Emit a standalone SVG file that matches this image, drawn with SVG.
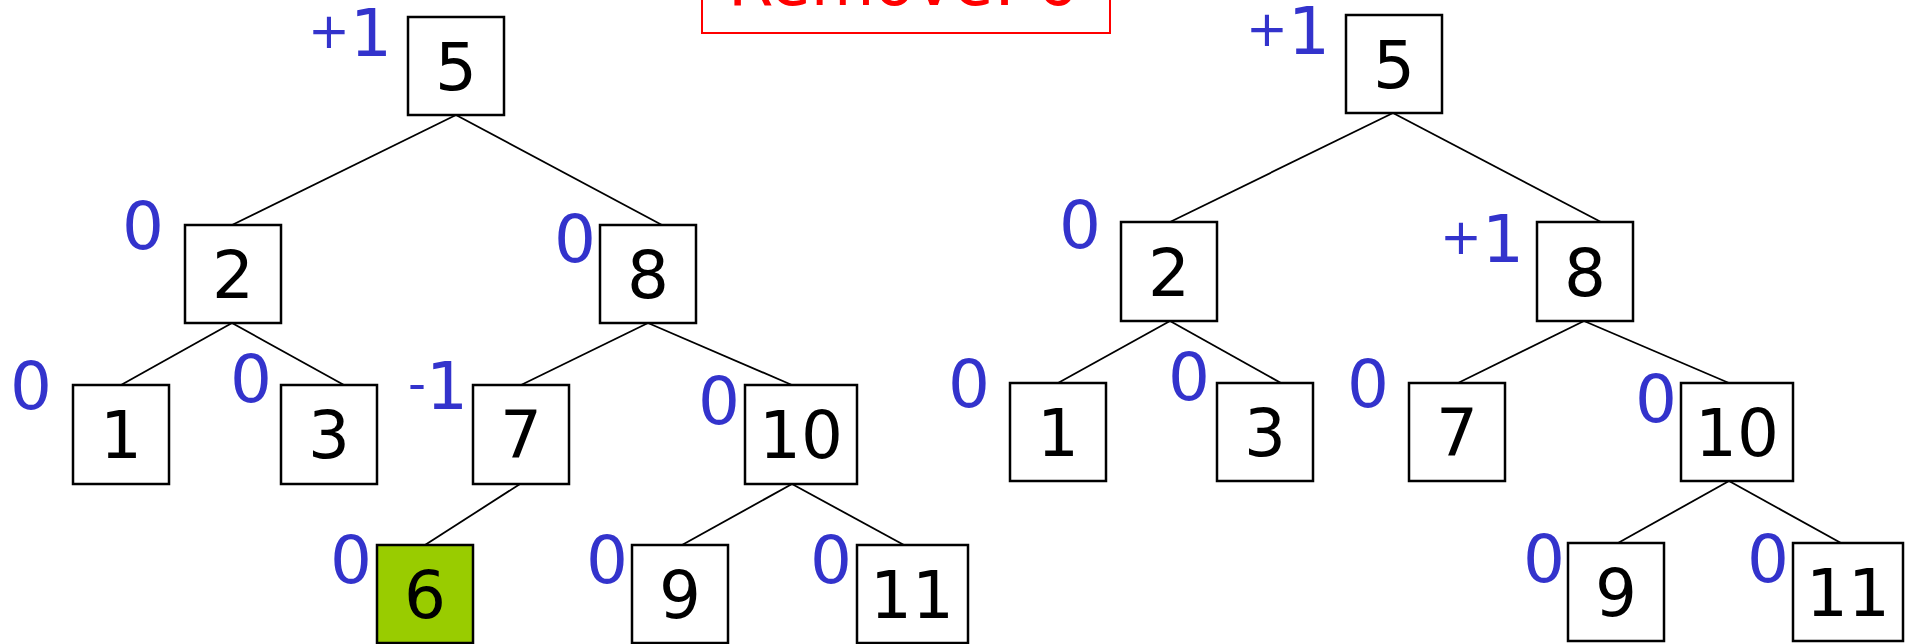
<svg xmlns="http://www.w3.org/2000/svg" width="1905" height="644" viewBox="0 0 1905 644">
<style>
.box{fill:#ffffff;stroke:#000;stroke-width:2.5}
.hl{fill:#99cc00}
.num{font-family:"DejaVu Sans","Liberation Sans",sans-serif;font-size:66px;fill:#000;text-anchor:middle}
.bal{font-family:"DejaVu Sans","Liberation Sans",sans-serif;font-size:66px;fill:#3333cc;text-anchor:middle}
.sg{font-family:"DejaVu Sans","Liberation Sans",sans-serif;font-size:66px;fill:#3333cc;text-anchor:end}
.sm{font-size:50px}
.edge{stroke:#000;stroke-width:1.8;fill:none}
.title{font-family:"DejaVu Sans","Liberation Sans",sans-serif;font-size:66px;fill:#ff0000}
</style>
<rect width="1905" height="644" fill="#ffffff"/>
<g id="title">
<rect x="702" y="-5" width="408" height="38" fill="#ffffff" stroke="#ff0000" stroke-width="2"/>
<text class="title" x="728" y="5" textLength="350" lengthAdjust="spacingAndGlyphs">Remove: 6</text>
</g>
<g id="connectors">
<line class="edge" x1="456" y1="115" x2="232" y2="225"/>
<line class="edge" x1="456" y1="115" x2="662" y2="225"/>
<line class="edge" x1="232" y1="323" x2="121" y2="385"/>
<line class="edge" x1="232" y1="323" x2="344" y2="385"/>
<line class="edge" x1="648" y1="323" x2="521" y2="385"/>
<line class="edge" x1="648" y1="323" x2="792" y2="385"/>
<line class="edge" x1="520" y1="484" x2="425" y2="545"/>
<line class="edge" x1="792" y1="484" x2="682" y2="545"/>
<line class="edge" x1="792" y1="484" x2="904" y2="545"/>
<line class="edge" x1="1393" y1="113" x2="1170" y2="222"/>
<line class="edge" x1="1393" y1="113" x2="1601" y2="222"/>
<line class="edge" x1="1170" y1="321" x2="1058" y2="383"/>
<line class="edge" x1="1170" y1="321" x2="1281" y2="383"/>
<line class="edge" x1="1584" y1="321" x2="1458" y2="383"/>
<line class="edge" x1="1584" y1="321" x2="1729" y2="383"/>
<line class="edge" x1="1729" y1="481" x2="1618" y2="543"/>
<line class="edge" x1="1729" y1="481" x2="1841" y2="543"/>
</g>
<g id="L5"><rect class="box" x="408" y="17" width="96" height="98"/><text class="num" x="456" y="90">5</text><text class="sg" x="392" y="56"><tspan class="sm" dy="-8">+</tspan><tspan dy="8">1</tspan></text></g>
<g id="L2"><rect class="box" x="185" y="225" width="96" height="98"/><text class="num" x="233" y="298">2</text><text class="bal" x="143" y="249">0</text></g>
<g id="L8"><rect class="box" x="600" y="225" width="96" height="98"/><text class="num" x="648" y="298">8</text><text class="bal" x="575" y="262">0</text></g>
<g id="L1"><rect class="box" x="73" y="385" width="96" height="99"/><text class="num" x="121" y="458">1</text><text class="bal" x="31" y="409">0</text></g>
<g id="L3"><rect class="box" x="281" y="385" width="96" height="99"/><text class="num" x="329" y="458">3</text><text class="bal" x="251" y="402">0</text></g>
<g id="L7"><rect class="box" x="473" y="385" width="96" height="99"/><text class="num" x="521" y="458">7</text><text class="sg" x="468" y="409"><tspan class="sm" dy="-8">-</tspan><tspan dy="8">1</tspan></text></g>
<g id="L10"><rect class="box" x="745" y="385" width="112" height="99"/><text class="num" x="801" y="458">10</text><text class="bal" x="719" y="424">0</text></g>
<g id="L6"><rect class="box hl" x="377" y="545" width="96" height="98"/><text class="num" x="425" y="618">6</text><text class="bal" x="351" y="583">0</text></g>
<g id="L9"><rect class="box" x="632" y="545" width="96" height="98"/><text class="num" x="680" y="618">9</text><text class="bal" x="607" y="583">0</text></g>
<g id="L11"><rect class="box" x="857" y="545" width="111" height="98"/><text class="num" x="912" y="618">11</text><text class="bal" x="831" y="583">0</text></g>
<g id="R5"><rect class="box" x="1346" y="15" width="96" height="98"/><text class="num" x="1394" y="88">5</text><text class="sg" x="1330" y="54"><tspan class="sm" dy="-8">+</tspan><tspan dy="8">1</tspan></text></g>
<g id="R2"><rect class="box" x="1121" y="222" width="96" height="99"/><text class="num" x="1169" y="296">2</text><text class="bal" x="1080" y="248">0</text></g>
<g id="R8"><rect class="box" x="1537" y="222" width="96" height="99"/><text class="num" x="1585" y="296">8</text><text class="sg" x="1524" y="262"><tspan class="sm" dy="-8">+</tspan><tspan dy="8">1</tspan></text></g>
<g id="R1"><rect class="box" x="1010" y="383" width="96" height="98"/><text class="num" x="1058" y="456">1</text><text class="bal" x="969" y="407">0</text></g>
<g id="R3"><rect class="box" x="1217" y="383" width="96" height="98"/><text class="num" x="1265" y="456">3</text><text class="bal" x="1189" y="400">0</text></g>
<g id="R7"><rect class="box" x="1409" y="383" width="96" height="98"/><text class="num" x="1457" y="456">7</text><text class="bal" x="1368" y="407">0</text></g>
<g id="R10"><rect class="box" x="1681" y="383" width="112" height="98"/><text class="num" x="1737" y="456">10</text><text class="bal" x="1656" y="422">0</text></g>
<g id="R9"><rect class="box" x="1568" y="543" width="96" height="98"/><text class="num" x="1616" y="616">9</text><text class="bal" x="1544" y="582">0</text></g>
<g id="R11"><rect class="box" x="1793" y="543" width="110" height="98"/><text class="num" x="1848" y="616">11</text><text class="bal" x="1768" y="582">0</text></g>
</svg>
